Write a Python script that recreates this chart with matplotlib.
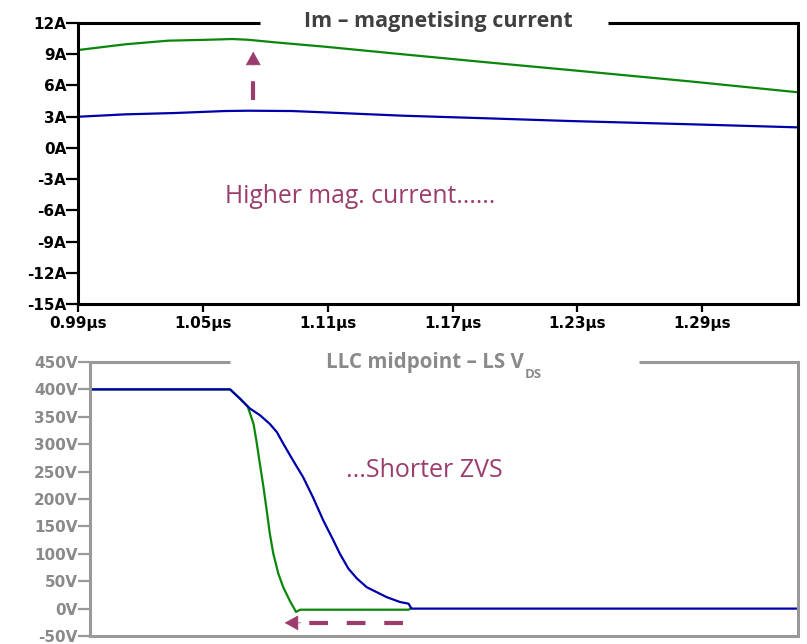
import matplotlib
matplotlib.use('Agg')
import matplotlib.pyplot as plt

# top panel: magnetising current (time in us, current in A)
t_green = [0.99, 1.0126, 1.0332, 1.0525, 1.064, 1.0717, 1.0847, 1.1087, 1.1462,
           1.1865, 1.2264, 1.2855, 1.336]
im_green = [9.40, 9.95, 10.30, 10.39, 10.46, 10.39, 10.14, 9.72, 8.99,
            8.22, 7.48, 6.36, 5.34]
t_blue = [0.99, 1.0126, 1.0366, 1.0606, 1.0717, 1.0928, 1.1087, 1.1462,
          1.1865, 1.2264, 1.2855, 1.336]
im_blue = [2.99, 3.22, 3.35, 3.54, 3.57, 3.54, 3.41, 3.09,
           2.84, 2.58, 2.26, 1.97]
top_xticks = [0.99, 1.05, 1.11, 1.17, 1.23, 1.29]
top_yticks = [12, 9, 6, 3, 0, -3, -6, -9, -12, -15]

# bottom panel: LLC midpoint LS Vds (arbitrary time units 0..100, volts)
x_vb = [0, 19.8, 20.2, 21.2, 22.6, 24.0, 25.4, 26.4, 27.3, 28.7, 30.1, 31.5, 32.95,
        34.4, 35.3, 36.5, 37.7, 39.1, 40.5, 41.9, 43.8, 45.0, 45.4, 100]
v_blue = [400, 400, 395, 383, 365, 353, 337, 322, 301, 270, 240, 203, 161,
          124, 100, 73, 55, 39, 30, 21, 12, 9, 0, 0]
x_vg = [0, 19.8, 21.2, 22.3, 23.1, 23.5, 24.0, 24.5, 24.9, 25.4, 25.9, 26.6,
        27.3, 28.2, 29.1, 29.7, 45.0, 45.4]
v_green = [400, 400, 383, 368, 337, 307, 264, 222, 185, 137, 100, 64,
           39, 15, -6, -2, -2, 1]
bot_yticks = [450, 400, 350, 300, 250, 200, 150, 100, 50, 0, -50]

GREEN = '#0a870a'
BLUE = '#0000aa'
NOTE = '#9b3d6c'
GRAY = '#999999'
GRAYTXT = '#8a8a8a'

fig = plt.figure(figsize=(8.07, 6.44), dpi=100)

# ---------- top panel ----------
ax1 = fig.add_axes([0.0967, 0.528, 0.8922, 0.4363])
ax1.plot(t_green, im_green, color=GREEN, lw=1.6)
ax1.plot(t_blue, im_blue, color=BLUE, lw=1.6)
ax1.set_xlim(0.99, 1.336)
ax1.set_ylim(-15, 12)
ax1.set_xticks(top_xticks)
ax1.set_xticklabels([f'{v:.2f}µs' for v in top_xticks])
ax1.set_yticks(top_yticks)
ax1.set_yticklabels([f'{v}A' for v in top_yticks])
for lab in ax1.get_xticklabels() + ax1.get_yticklabels():
    lab.set_fontfamily('DejaVu Sans')
    lab.set_fontweight('bold')
    lab.set_fontsize(11)
ax1.tick_params(axis='y', length=8.5, width=1.6, color='black', pad=0)
ax1.tick_params(axis='x', length=6, width=1.6, color='black', pad=3)
ax1.spines['top'].set_visible(False)
for s in ['left', 'right', 'bottom']:
    ax1.spines[s].set_linewidth(2.2)
ax1.plot([0, 0.253], [1, 1], transform=ax1.transAxes, color='black', lw=2.2,
         clip_on=False, solid_capstyle='butt')
ax1.plot([0.736, 1.0], [1, 1], transform=ax1.transAxes, color='black', lw=2.2,
         clip_on=False, solid_capstyle='butt')
ax1.text(0.5, 0.987, 'Im – magnetising current', transform=ax1.transAxes,
         ha='center', va='baseline', fontsize=15.5, fontweight='bold',
         family='Open Sans', color='#404040')

# dashed arrow, up
ax1.plot([1.0742, 1.0742], [4.6, 8.0], color=NOTE, lw=3, dashes=(4.5, 4.5))
ax1.annotate('', xy=(1.0742, 9.25), xytext=(1.0742, 7.95),
             arrowprops=dict(arrowstyle='-|>,head_length=9,head_width=5',
                             mutation_scale=1, color=NOTE, lw=0.5,
                             shrinkA=0, shrinkB=0))
ax1.text(1.0606, -5.34, 'Higher mag. current......', color=NOTE,
         fontsize=17.8, family='Open Sans', va='baseline', ha='left')

# ---------- bottom panel ----------
ax2 = fig.add_axes([0.1115, 0.0124, 0.8773, 0.4255])
ax2.plot(x_vg, v_green, color=GREEN, lw=1.6)
ax2.plot(x_vb, v_blue, color=BLUE, lw=1.6)
ax2.set_xlim(0, 100)
ax2.set_ylim(-50, 450)
ax2.set_xticks([])
ax2.set_yticks(bot_yticks)
ax2.set_yticklabels([f'{v}V' for v in bot_yticks])
for lab in ax2.get_yticklabels():
    lab.set_fontfamily('DejaVu Sans')
    lab.set_fontweight('bold')
    lab.set_fontsize(11)
    lab.set_color(GRAYTXT)
ax2.tick_params(axis='y', length=9, width=1.6, color=GRAY, pad=0)
ax2.spines['top'].set_visible(False)
for s in ['left', 'right', 'bottom']:
    ax2.spines[s].set_linewidth(2.2)
    ax2.spines[s].set_color(GRAY)
ax2.plot([0, 0.198], [1, 1], transform=ax2.transAxes, color=GRAY, lw=2.2,
         clip_on=False, solid_capstyle='butt')
ax2.plot([0.775, 1.0], [1, 1], transform=ax2.transAxes, color=GRAY, lw=2.2,
         clip_on=False, solid_capstyle='butt')
t2 = ax2.text(0.333, 0.977, 'LLC midpoint – LS V', transform=ax2.transAxes,
              ha='left', va='baseline', fontsize=14.8, fontweight='bold',
              family='Open Sans', color=GRAYTXT)
ax2.annotate('DS', xy=(1, 0), xycoords=t2, xytext=(0.5, -3.5),
             textcoords='offset points', ha='left', va='baseline',
             fontsize=9.5, fontweight='bold', family='Open Sans', color=GRAYTXT)

# dashed arrow, left
ax2.plot([44.2, 30.0], [-26, -26], color=NOTE, lw=3, dashes=(4.5, 4.5))
ax2.annotate('', xy=(27.5, -26), xytext=(29.8, -26),
             arrowprops=dict(arrowstyle='-|>,head_length=9,head_width=5',
                             mutation_scale=1, color=NOTE, lw=0.5,
                             shrinkA=0, shrinkB=0))
ax2.text(36.2, 240, '...Shorter ZVS', color=NOTE, fontsize=18,
         family='Open Sans', va='baseline', ha='left')

fig.savefig('out.png', dpi=100)
